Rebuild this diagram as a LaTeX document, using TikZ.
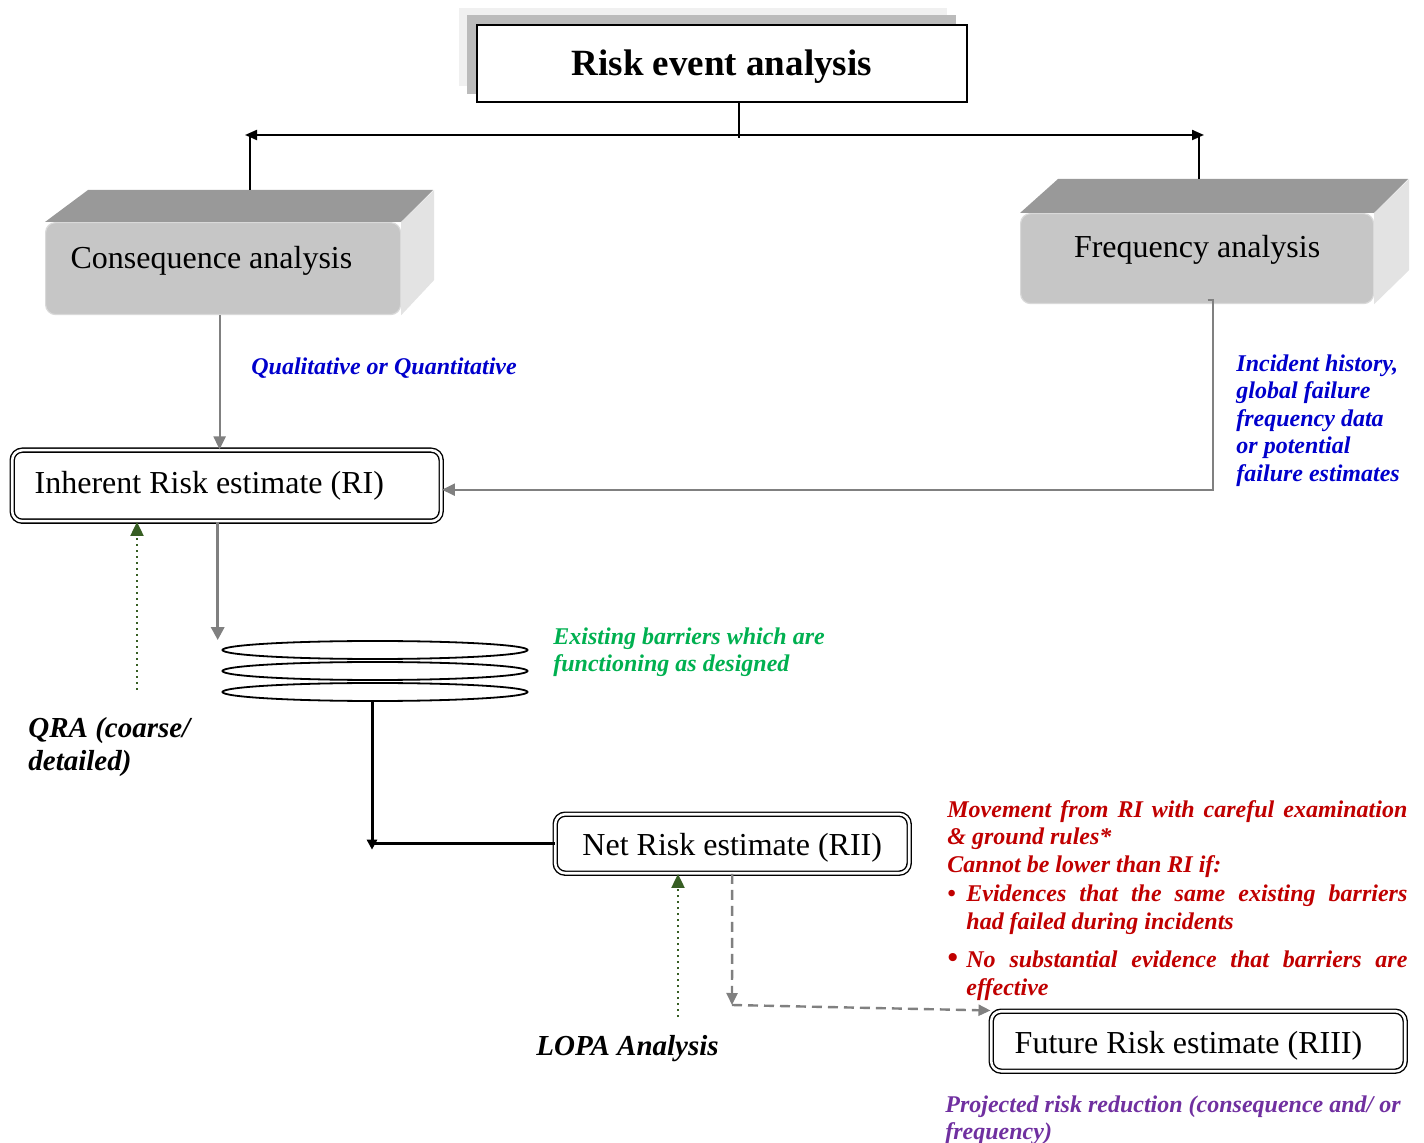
\documentclass[tikz,border=0pt]{standalone}
\usepackage{fontspec}
\setmainfont{Liberation Serif}
\usetikzlibrary{arrows.meta,shapes.geometric}

\definecolor{noteblue}{RGB}{0,0,204}
\definecolor{notered}{RGB}{192,0,0}
\definecolor{notegreen}{RGB}{0,176,80}
\definecolor{notepurple}{RGB}{112,48,160}
\definecolor{pathgreen}{RGB}{55,94,35}
\definecolor{linegray}{RGB}{128,128,128}

\tikzset{
  titlebox/.style={draw=black, line width=0.8pt, fill=white, minimum width=245pt, minimum height=38.5pt,
    text height=16pt, text depth=3.5pt, font=\fontsize{18.5}{22}\selectfont\bfseries},
  facebox/.style={fill=gray!45, draw=gray!30, line width=0.6pt, rounded corners=5pt, inner ysep=0pt,
    font=\fontsize{16}{19}\selectfont},
  estbox/.style={draw=black, line width=0.7pt, double=white, double distance=1.3pt, rounded corners=5pt,
    fill=white, inner ysep=0pt, font=\fontsize{16}{19}\selectfont},
  barrier/.style={ellipse, draw=black, line width=0.9pt, minimum width=152.5pt, minimum height=9pt, inner sep=0pt},
  note/.style={font=\fontsize{12}{13.75}\selectfont\bfseries\itshape, inner sep=0pt, anchor=north west, align=left},
  bignote/.style={font=\fontsize{14.5}{16.5}\selectfont\bfseries\itshape, inner sep=0pt, anchor=north west, align=left},
  blackline/.style={draw=black, line width=1pt},
  thickblack/.style={draw=black, line width=1.5pt},
  grayarrow/.style={draw=linegray, line width=1pt, -{Triangle[length=6.5pt,width=6pt]}},
  heavygray/.style={draw=linegray, line width=1.6pt, -{Triangle[length=6.5pt,width=6.5pt]}},
  greenarrow/.style={draw=pathgreen, line width=1pt, dotted, -{Triangle[length=7pt,width=6.5pt]}},
  dasharrow/.style={draw=linegray, line width=1.2pt, dash pattern=on 5pt off 3pt, -{Triangle[length=6pt,width=5.5pt]}}
}

\begin{document}
\begin{tikzpicture}[x=0.5pt, y=-0.5pt]
\useasboundingbox (0,0) rectangle (1424,1143);

% title with its stacked shadow
\fill[gray!12] (459,8) rectangle (947,86);
\fill[gray!53] (467,15) rectangle (956,94);
\node[titlebox, anchor=north west] (title) at (476,24) {Risk event analysis};

% the two 3D blocks
\node[facebox, anchor=north west, text width=152.5pt, align=left, inner xsep=12.5pt,
  text height=23pt, text depth=23pt] (cons) at (45,222) {\spaceskip=0pt Consequence analysis};
\fill[gray!80] (cons.north west) -- ++(43,-32) -- ++(345,0) -- (cons.north east) -- cycle;
\fill[gray!22] (cons.north east) -- ++(33,-32) -- ++(0,90) -- (cons.south east) -- cycle;

\node[facebox, anchor=north west, minimum width=176.5pt, text height=22pt, text depth=23pt]
  (freq) at (1020,213) {Frequency analysis};
\fill[gray!80] (freq.north west) -- ++(38,-34) -- ++(350,0) -- (freq.north east) -- cycle;
\fill[gray!22] (freq.north east) -- ++(35,-34) -- ++(0,91) -- (freq.south east) -- cycle;

% estimates
\node[estbox, anchor=north west, text width=192pt, inner xsep=11.25pt, minimum height=35.5pt, align=left]
  (inh) at (11.5,449.5) {\spaceskip=0pt Inherent Risk estimate (RI)};
\node[estbox, anchor=north west, minimum width=177pt, minimum height=29.5pt, text height=15pt, text depth=3pt]
  (net) at (554.5,813.5) {Net Risk estimate (RII)};
\node[estbox, anchor=north west, text width=183.5pt, inner xsep=11.75pt, minimum height=30pt, align=left,
  text height=15pt, text depth=3pt] (fut) at (990.5,1010.5) {\spaceskip=0pt Future Risk estimate (RIII)};

% barriers
\foreach \i/\y in {1/650,2/671,3/692}
  \node[barrier] (bar\i) at (375,\y) {};

% notes
\node[note, text=noteblue] (qualtxt) at (251,357) {Qualitative or Quantitative};
\node[note, text=noteblue] (freqtxt) at (1236,354) {Incident history,\\global failure\\frequency data\\or potential\\failure estimates};
\node[note, text=notegreen] (bartxt) at (553,627) {Existing barriers which are\\functioning as designed};
\node[bignote] (qra) at (28,717) {QRA (coarse/\\detailed)};
\node[bignote] (lopa) at (536,1035) {LOPA Analysis};
\node[note, text=notered, text width=230pt, align=justify] (rules) at (947,800) {\parindent=0pt
Movement from RI with careful examination\linebreak
\& ground rules*\newline
Cannot be lower than RI if:\par
\vspace{1pt}
\hangindent=9.5pt\hangafter=1
\makebox[9.5pt][l]{\textbullet}Evidences that the same existing barriers\linebreak
had failed during incidents\par
\vspace{5.5pt}
\hangindent=9.5pt\hangafter=1
\makebox[9.5pt][l]{\fontsize{15}{15}\selectfont\textbullet}No substantial evidence that barriers are\linebreak
effective\par};
\node[note, text=notepurple] (projtxt) at (945,1095) {Projected risk reduction (consequence and/ or\\frequency)};

% top split
\coordinate (hub) at (739,135);
\coordinate (armL) at (245,135);
\coordinate (armR) at (1204,135);
\coordinate (consTop) at (250,190);
\coordinate (freqTop) at (1199,179);
\draw[blackline] (title.south -| hub) -- ([yshift=-1.5pt]hub);
\draw[blackline, -{Triangle[length=6pt,width=5pt]}] (hub) -- (armL);
\draw[blackline, -{Triangle[length=6pt,width=5pt]}] (hub) -- (armR);
\draw[blackline] (armL -| consTop) -- (consTop);
\draw[blackline] (armR -| freqTop) -- (freqTop);

% flow
\draw[grayarrow] ([xshift=-1.75pt]cons.south) -- ([xshift=-1.75pt]cons.south |- inh.north);
\draw[grayarrow] ([xshift=5.25pt,yshift=2pt]freq.south) -- ++(5,0) |- ([yshift=-2pt]inh.east);
\draw[heavygray] ([xshift=-4.5pt]inh.south) -- ([xshift=-4.5pt]inh.south |- bar1.north);
\coordinate (elbow) at ([xshift=-1.5pt]net.west -| bar3.south);
\draw[thickblack] (net.west) -- (elbow);
\draw[thickblack, -{Triangle[length=5pt,width=5pt]}] ([xshift=-1.5pt]bar3.south) -- ([yshift=-3pt]elbow);
\coordinate (qraTail) at (137,690);
\draw[greenarrow] (qraTail) -- (qraTail |- inh.south);
\coordinate (lopaTail) at (678,1017);
\draw[greenarrow] (lopaTail) -- (lopaTail |- net.south);
\coordinate (dashCorner) at (732,1005);
\draw[dasharrow] (net.south) -- (dashCorner);
\draw[dasharrow] (dashCorner) -- (fut.north west);
\end{tikzpicture}
\end{document}
